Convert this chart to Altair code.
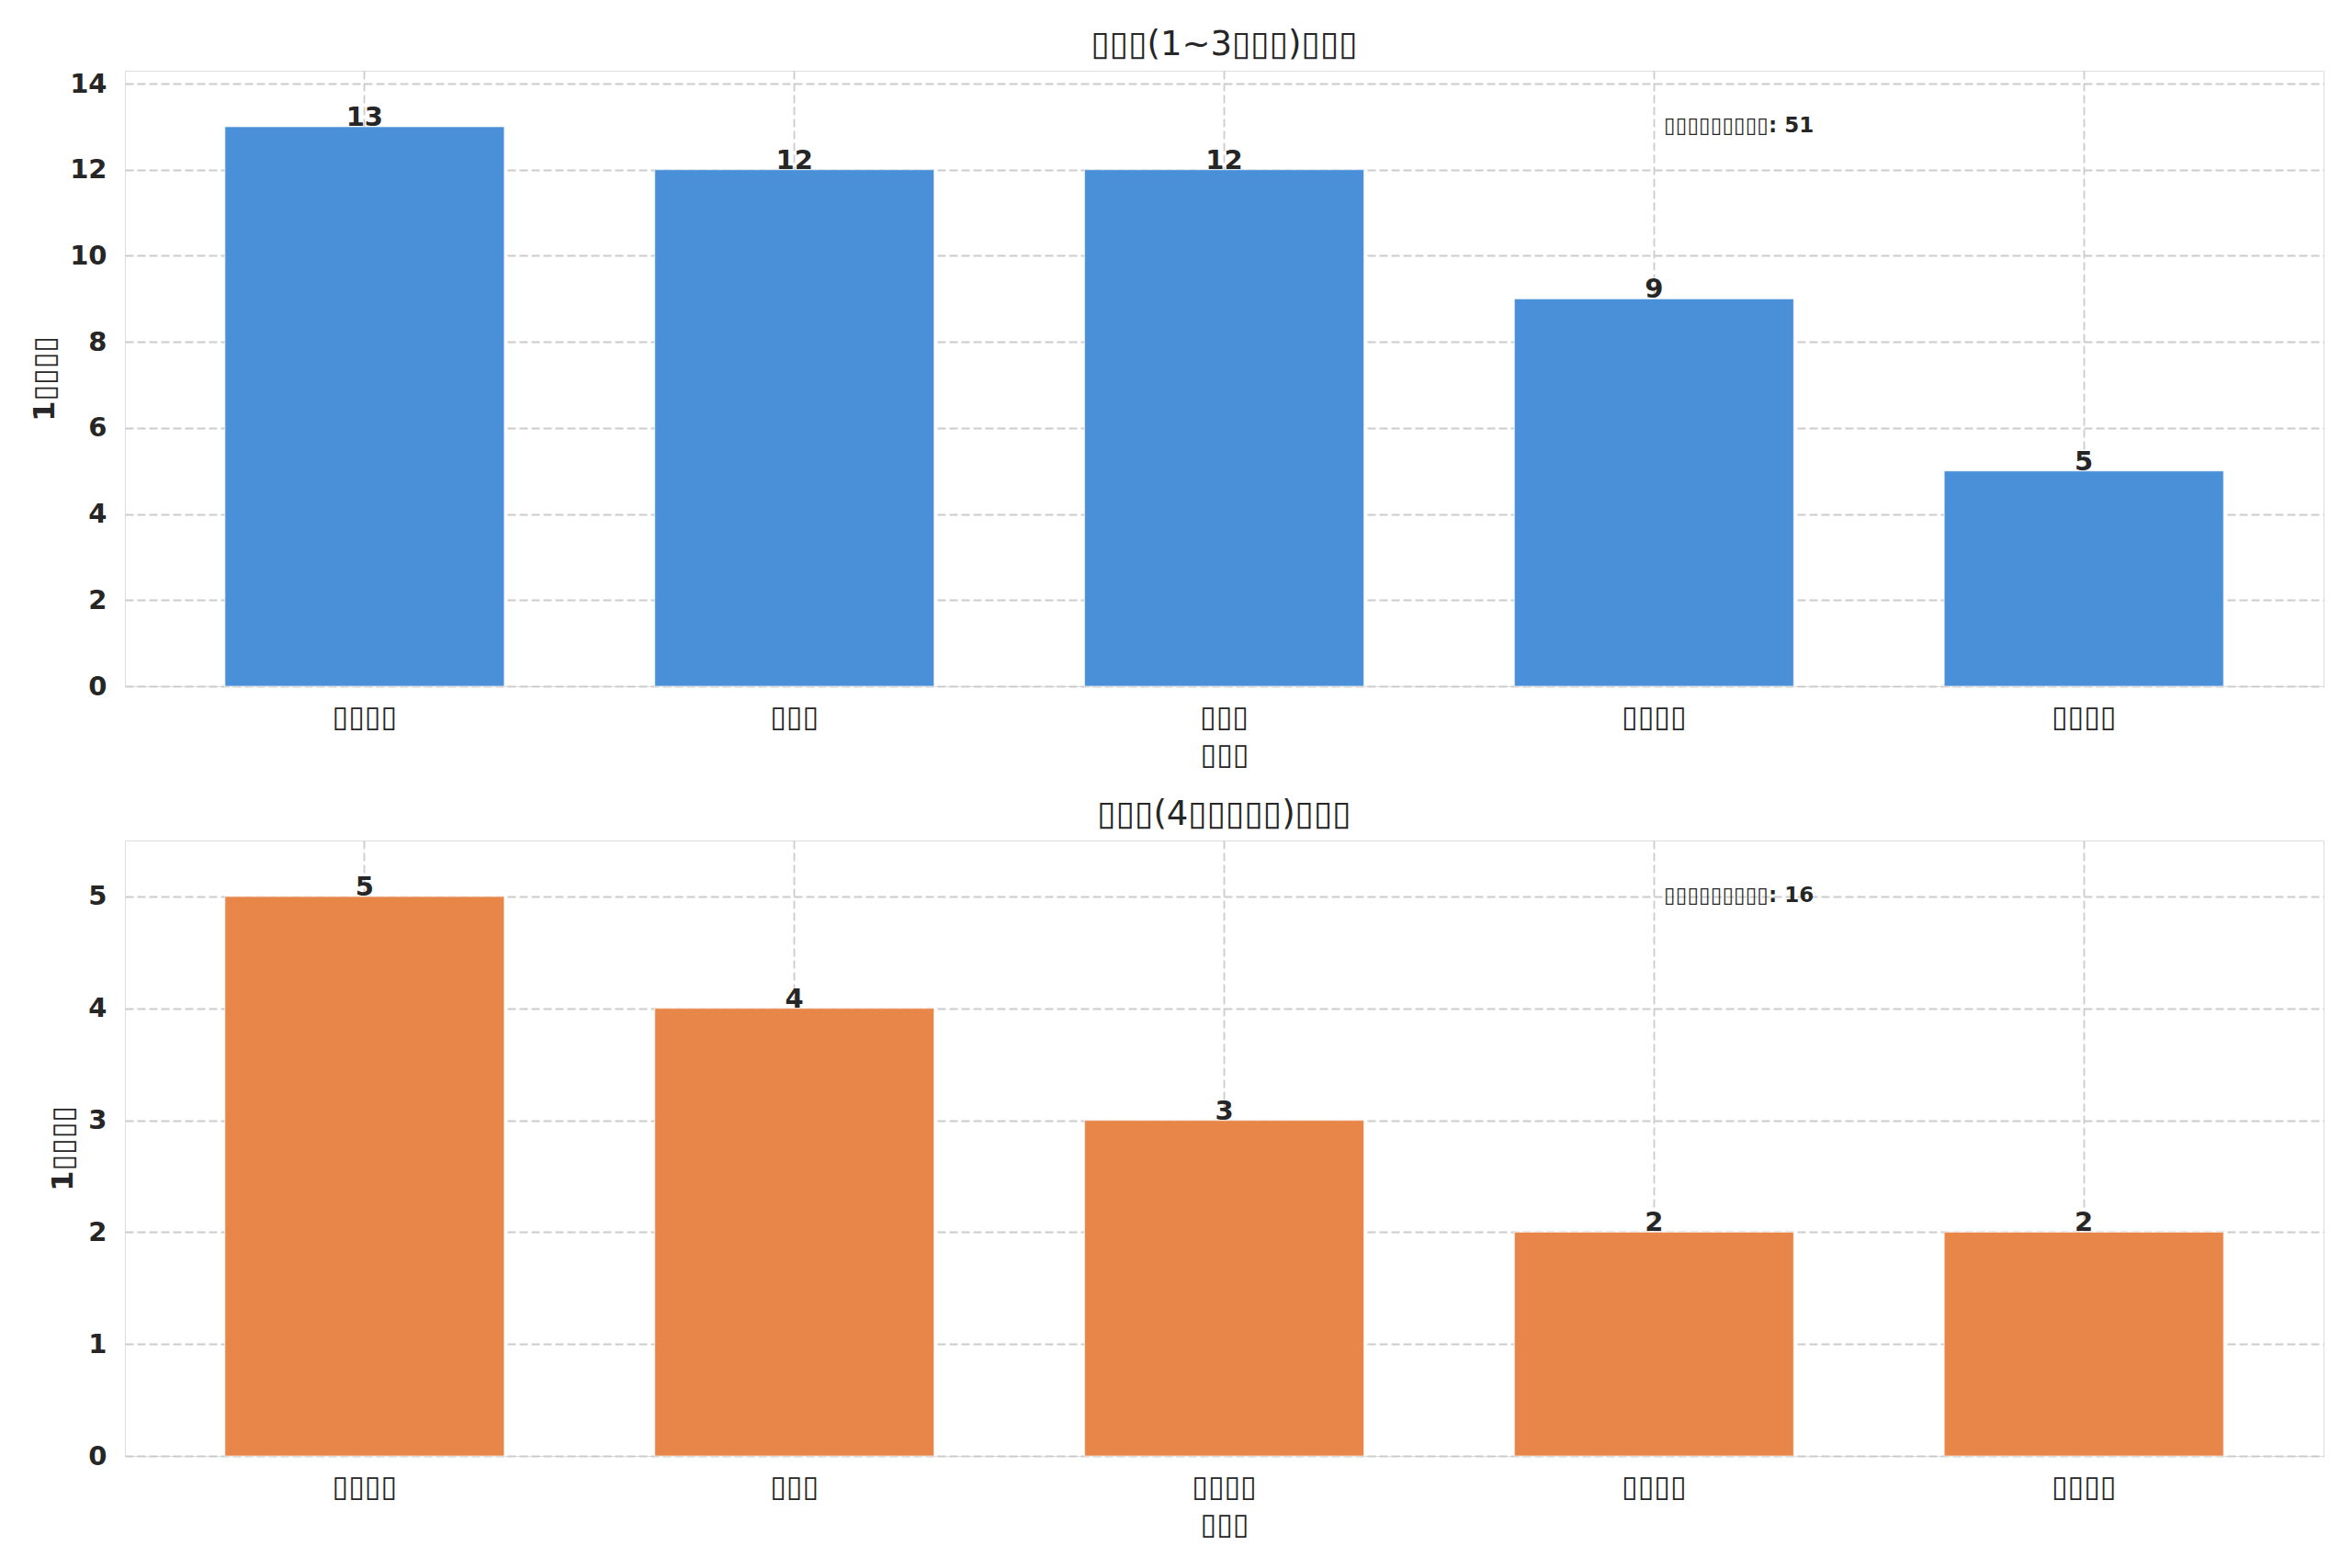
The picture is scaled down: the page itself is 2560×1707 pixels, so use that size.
import altair as alt
import pandas as pd

# ---- data (glyphs rendered as missing-glyph boxes) ----
top_names = ["▯▯▯▯", "▯▯▯", "▯▯▯", "▯▯▯▯", "▯▯▯▯"]
top_values = [13, 12, 12, 9, 5]
top_ticks = [0, 2, 4, 6, 8, 10, 12, 14]
top_title = "▯▯▯(1~3▯▯▯)▯▯▯"

bottom_names = ["▯▯▯▯", "▯▯▯", "▯▯▯▯", "▯▯▯▯", "▯▯▯▯"]
bottom_values = [5, 4, 3, 2, 2]
bottom_ticks = [0, 1, 2, 3, 4, 5]
bottom_title = "▯▯▯(4▯▯▯▯▯)▯▯▯"

x_title = "▯▯▯"
y_title = "1▯▯▯▯"
note_label = "▯▯▯▯▯▯▯▯▯"

top_color = "#4A90D9"
bottom_color = "#E8864A"

W, H = 2393, 670
FONT = "DejaVu Sans"
TXT = "#262626"


def panel(names, values, color, title, ticks):
    df = pd.DataFrame({"idx": list(range(len(names))), "name": names, "value": values})
    ymax = max(values) * 1.1
    label_expr = "[" + ",".join(f"'{n}'" for n in names) + "][datum.value]"
    x = alt.X(
        "idx:O",
        scale=alt.Scale(paddingInner=0.35, paddingOuter=0.2325),
        axis=alt.Axis(
            title=x_title,
            labelAngle=0,
            labelExpr=label_expr,
            bandPosition=0.5,
            grid=True,
            gridDash=[9, 4],
            gridColor="#cccccc",
            gridWidth=1.8,
            domain=False,
            ticks=False,
            labelFontSize=32,
            labelPadding=18,
            labelColor=TXT,
            labelFont=FONT,
            titleFontSize=32,
            titleFont=FONT,
            titleFontWeight="normal",
            titleColor=TXT,
            titlePadding=10,
        ),
    )
    y = alt.Y(
        "value:Q",
        scale=alt.Scale(domain=[0, ymax], nice=False),
        axis=alt.Axis(
            title=y_title,
            values=ticks,
            format="d",
            grid=True,
            gridDash=[9, 4],
            gridColor="#cccccc",
            gridWidth=1.8,
            domain=False,
            ticks=False,
            labelFontSize=29,
            labelFontWeight="bold",
            labelPadding=20,
            labelColor=TXT,
            labelFont=FONT,
            titleFontSize=32,
            titleFontWeight="bold",
            titleFont=FONT,
            titleColor=TXT,
            titlePadding=10,
        ),
    )
    bars = alt.Chart(df).mark_bar(
        color=color, stroke="white", strokeWidth=1.2, strokeOpacity=0.6
    ).encode(x=x, y=y)
    labels = alt.Chart(df).mark_text(
        baseline="alphabetic", align="center", dy=-1, fontSize=29,
        fontWeight="bold", font=FONT, color=TXT
    ).encode(x="idx:O", y="value:Q", text="value:Q")
    total = sum(values)
    note_df = pd.DataFrame({"t": [f"{note_label}: {total}"]})
    note = alt.Chart(note_df).mark_text(
        align="left", baseline="middle", fontSize=23, fontWeight="bold",
        font=FONT, color=TXT
    ).encode(x=alt.value(W * 0.7), y=alt.value(H * 0.09), text="t:N")
    return alt.layer(bars, labels, note).properties(
        width=W,
        height=H,
        title=alt.TitleParams(
            title, fontSize=37, fontWeight="normal", font=FONT, color=TXT,
            anchor="middle", offset=9
        ),
    )


chart = alt.vconcat(
    panel(top_names, top_values, top_color, top_title, top_ticks),
    panel(bottom_names, bottom_values, bottom_color, bottom_title, bottom_ticks),
    spacing=29,
).properties(
    padding={"left": 24, "top": 21, "right": 5, "bottom": 5}
).configure_view(
    stroke="#cccccc", strokeWidth=2.5
).configure(background="white")

chart.save("out.html", embed_options={"renderer": "svg", "actions": False})
